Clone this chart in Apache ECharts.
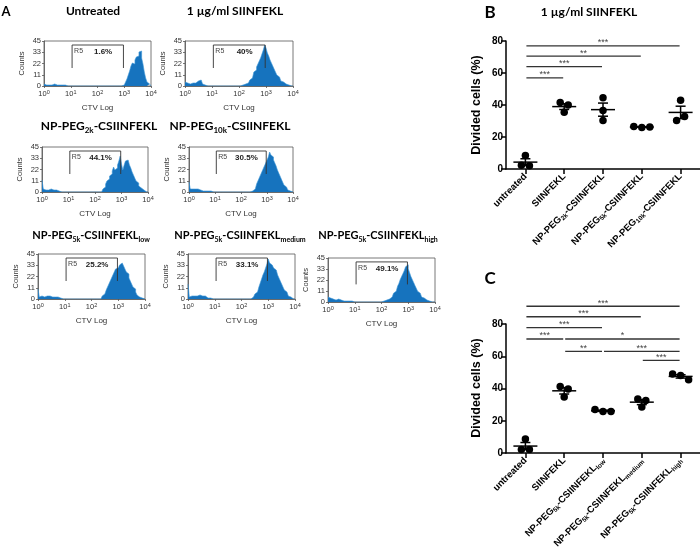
<!DOCTYPE html>
<html>
<head>
<meta charset="utf-8">
<script src="https://cdn.jsdelivr.net/npm/echarts@6/dist/echarts.min.js"></script>
<style>
html,body{margin:0;padding:0;background:#ffffff;}
#chart{width:700px;height:555px;}
</style>
</head>
<body>
<div id="chart"></div>
<script>
// ---------- Panel A: CTV histograms, counts per 0.05-decade bin from 10^0 to 10^4 ----------
const binWidth = 0.05;
const hUntreated = [
  2,1,2,1,2,1,1,2,1,1, 1,1,0,1,0,1,0,0,0,0,
  0,0,0,0,0,0,0,0,0,0, 0,0,0,0,0,0,0,0,0,0,
  0,0,0,0,0,0,0,0,0,0, 0,0,0,0,0,0,0,0,1,1,
  2,4,7,11,15,20,23,22,26,29, 30,34,35,28,22,14,8,4,2,1
];
const hSiinfekl = [
  4,3,3,2,3,3,2,3,4,5, 7,6,4,2,1,0,0,0,0,0,
  0,0,0,0,0,0,0,0,0,0, 0,0,0,0,0,0,0,0,0,0,
  0,1,1,1,2,2,3,4,6,8, 10,14,16,19,22,25,28,32,36,41,
  38,33,30,26,23,20,17,14,11,9, 7,5,4,3,2,1,1,0,0,0
];
const hPeg2k = [
  12,3,2,3,2,2,3,2,2,3, 2,3,1,0,0,0,0,0,0,0,
  0,0,0,0,0,0,0,0,0,0, 0,0,0,0,0,0,0,0,0,0,
  0,0,0,0,0,1,3,5,8,11, 13,16,18,21,25,22,24,27,31,36,
  28,22,27,31,32,30,27,24,20,17, 14,11,9,6,4,3,2,1,0,0
];
const hPeg10k = [
  10,3,3,2,3,2,3,2,2,2, 1,2,1,1,1,0,1,1,0,0,
  0,0,0,0,0,0,0,0,0,0, 0,0,0,0,0,0,0,0,0,0,
  0,0,0,0,0,0,0,0,1,2, 3,5,8,11,14,17,20,23,26,29,
  32,35,40,37,35,32,29,26,22,19, 16,13,10,7,5,3,2,1,0,0
];
const hLow = [
  10,2,3,2,2,3,3,2,3,2, 2,3,2,1,2,1,1,0,0,0,
  0,0,0,0,0,0,0,0,0,0, 0,0,0,0,0,0,0,0,0,0,
  0,0,0,0,0,0,0,1,3,5, 7,9,12,15,18,21,24,27,30,31,
  33,34,36,37,33,30,27,25,21,18, 15,12,10,7,4,2,1,1,0,0
];
const hMedium = [
  15,2,3,2,3,2,3,3,4,4, 3,2,3,2,1,1,1,0,0,0,
  0,0,0,0,0,0,0,0,0,0, 0,0,0,0,0,0,0,0,0,0,
  0,0,0,0,0,0,0,1,2,3, 5,7,9,12,16,20,24,27,31,35,
  40,36,34,33,31,29,27,24,21,18, 15,12,9,7,5,3,2,1,0,0
];
const hHigh = [
  5,4,3,3,3,2,2,3,2,2, 2,1,2,1,1,1,1,1,1,0,
  1,0,0,0,0,0,0,0,0,0, 0,0,0,0,0,0,0,0,0,0,
  0,1,1,2,2,3,4,5,7,9, 11,13,16,19,23,26,29,32,36,38,
  34,30,26,23,20,17,14,11,9,7, 5,4,3,2,2,1,1,0,0,0
];
const histTitles = ['Untreated','1 µg/ml SIINFEKL','NP-PEG2k-CSIINFEKL','NP-PEG10k-CSIINFEKL',
  'NP-PEG5k-CSIINFEKLlow','NP-PEG5k-CSIINFEKLmedium','NP-PEG5k-CSIINFEKLhigh'];
const histPct = ['1.6%','40%','44.1%','30.5%','25.2%','33.1%','49.1%'];
const gateX = [1.05, 2.97];   // R5 gate, log10 CTV
const gateY = [18, 41];       // counts
const countTicks = [0, 11, 22, 33, 45];
const decadeTicks = [0, 1, 2, 3, 4];

// ---------- Panels B and C: divided cells (%) ----------
const catsB = ['untreated','SIINFEKL','NP-PEG2k-CSIINFEKL','NP-PEG5k-CSIINFEKL','NP-PEG10k-CSIINFEKL'];
const divB = [[2.3,8.5,2.1],[41.5,40,35.5],[44.5,36.5,30.3],[26.5,26,26.2],[43,30.3,32.8]];
const sigB = [[0,1,57,'***'],[0,2,64,'***'],[0,3,70.5,'**'],[0,4,77,'***']];
const catsC = ['untreated','SIINFEKL','NP-PEG5k-CSIINFEKLlow','NP-PEG5k-CSIINFEKLmedium','NP-PEG5k-CSIINFEKLhigh'];
const divC = [[2.1,8.7,2.1],[41.3,39.7,34.7],[26.9,25.8,25.8],[28.5,33.5,32.6],[49,48,45.5]];
const sigC = [[0,4,91,'***'],[0,3,84.5,'***'],[0,2,77.7,'***'],[0,1,70.7,'***'],[1,4,70.7,'*'],
  [1,2,63,'**'],[2,4,63,'***'],[3,4,57.4,'***']];
const yTicksDiv = [0, 20, 40, 60, 80];

// ---------- layout ----------
const FF = 'Liberation Sans';
const TF = 'Lato';
const histLayout = [[44,41,107,45],[185,41,108,45],[42,147,106,45],[189,147,104,45],
  [38,254,107,45],[188,254,107,45],[328,258,107,44]];
const titlePos = [[93,11],[235,11],[99,126],[230,126],[91,235],[240,235],[378,235]];
const titleSize = [12,12,12,12,11,11,11];

function subFmt(s, key){
  return s.replace(/PEG(\d+k)/, 'PEG{' + key + '|$1}')
          .replace(/CSIINFEKL(low|medium|high)$/, 'CSIINFEKL{' + key + '|$1}');
}
function stats(v){
  const n = v.length, m = v.reduce((a,b)=>a+b,0)/n;
  const sd = Math.sqrt(v.reduce((a,b)=>a+(b-m)*(b-m),0)/(n-1));
  const se = sd/Math.sqrt(n);
  return [m, m-se, m+se];
}
function offsets(vals){
  const idx = vals.map((v,i)=>i).sort((a,b)=>vals[a]-vals[b]);
  const clusters = []; let cur = [idx[0]];
  for (let k=1;k<idx.length;k++){
    if (vals[idx[k]]-vals[idx[k-1]] < 3.5) cur.push(idx[k]); else { clusters.push(cur); cur=[idx[k]]; }
  }
  clusters.push(cur);
  const off = vals.map(()=>0);
  clusters.forEach(c=>{ c.sort((a,b)=>a-b); c.forEach((i,k)=>{ off[i] = (k-(c.length-1)/2)*8; }); });
  return off;
}

const grids = [], xAxes = [], yAxes = [], series = [];
const hists = [hUntreated, hSiinfekl, hPeg2k, hPeg10k, hLow, hMedium, hHigh];

hists.forEach((h, i) => {
  const L = histLayout[i];
  grids.push({left:L[0], top:L[1], width:L[2], height:L[3], show:true, borderColor:'#555', borderWidth:0.8, backgroundColor:'transparent'});
  xAxes.push({type:'value', gridIndex:i, min:decadeTicks[0], max:decadeTicks[decadeTicks.length-1], interval:1,
    axisLine:{show:true, lineStyle:{color:'#555', width:0.8}},
    axisTick:{show:true, length:2, lineStyle:{color:'#555', width:0.8}},
    splitLine:{show:false},
    axisLabel:{fontFamily:FF, fontSize:7.5, color:'#333', margin:3, lineHeight:10,
      formatter: v => '10{s|' + v + '}',
      rich:{s:{fontFamily:FF, fontSize:5.5, color:'#333', verticalAlign:'top', lineHeight:5}}},
    name:'CTV Log', nameLocation:'middle', nameGap:18,
    nameTextStyle:{fontFamily:FF, fontSize:8, color:'#333'}});
  yAxes.push({type:'value', gridIndex:i, min:0, max:countTicks[countTicks.length-1], interval:11.25,
    axisLine:{show:true, lineStyle:{color:'#555', width:0.8}},
    axisTick:{show:true, length:2, lineStyle:{color:'#555', width:0.8}},
    splitLine:{show:false},
    axisLabel:{fontFamily:FF, fontSize:7.5, color:'#333', margin:3, formatter: v => String(Math.floor(v))},
    name:'Counts', nameLocation:'middle', nameGap:18, nameRotate:90,
    nameTextStyle:{fontFamily:FF, fontSize:7.5, color:'#333'}});
  const data = h.map((v,k)=>[k*binWidth, v]);
  data.push([h.length*binWidth, 0]);
  series.push({type:'line', xAxisIndex:i, yAxisIndex:i, step:'end', symbol:'none', silent:true, z:2,
    data:data, lineStyle:{color:'#3f98d8', width:0.6}, areaStyle:{color:'#1673be', opacity:1}});
  series.push({type:'custom', xAxisIndex:i, yAxisIndex:i, z:5, silent:true,
    data:[[gateX[0], gateX[1], gateY[0], gateY[1]]],
    renderItem:(p, api) => {
      const a = api.coord([api.value(0), api.value(2)]);
      const b = api.coord([api.value(0), api.value(3)]);
      const c = api.coord([api.value(1), api.value(3)]);
      const d = api.coord([api.value(1), api.value(2)]);
      const mid = api.coord([(api.value(0)+api.value(1))/2 + 0.2, api.value(3)]);
      return {type:'group', children:[
        {type:'polyline', shape:{points:[a,b,c,d]}, style:{stroke:'#333', lineWidth:0.9, fill:'none'}},
        {type:'text', x:b[0]+2, y:b[1]+2.5, style:{text:'R5', fontFamily:FF, fontSize:7, fill:'#444', align:'left', verticalAlign:'top'}},
        {type:'text', x:mid[0], y:mid[1]+3, style:{text:histPct[i], fontFamily:FF, fontSize:8, fontWeight:'bold', fill:'#222', align:'center', verticalAlign:'top'}}
      ]};
    }});
});

function mainPanel(gi, top, height, cats, div, sig){
  grids.push({left:506, top:top, width:195, height:height});
  xAxes.push({type:'category', gridIndex:gi, data:cats, boundaryGap:true,
    axisLine:{show:true, lineStyle:{color:'#000', width:1.5}},
    axisTick:{show:true, alignWithLabel:true, length:5, lineStyle:{color:'#000', width:1.5}},
    splitLine:{show:false},
    axisLabel:{interval:0, rotate:45, margin:6, fontFamily:FF, fontWeight:'bold', fontSize:9.5, color:'#000', lineHeight:12,
      formatter: s => subFmt(s, 's'),
      rich:{s:{fontFamily:FF, fontWeight:'bold', fontSize:6.5, color:'#000', verticalAlign:'bottom', lineHeight:6}}}});
  yAxes.push({type:'value', gridIndex:gi, min:yTicksDiv[0], max:yTicksDiv[yTicksDiv.length-1], interval:20,
    axisLine:{show:true, lineStyle:{color:'#000', width:1.5}},
    axisTick:{show:true, length:5, lineStyle:{color:'#000', width:1.5}},
    splitLine:{show:false},
    axisLabel:{fontFamily:FF, fontWeight:'bold', fontSize:10, color:'#000', margin:3}});
  const pts = [];
  div.forEach((vals, ci) => {
    const off = offsets(vals);
    vals.forEach((v, k) => pts.push({value:[ci, v], symbolOffset:[off[k], 0]}));
  });
  series.push({type:'scatter', xAxisIndex:gi, yAxisIndex:gi, symbol:'circle', symbolSize:7.5, z:4,
    itemStyle:{color:'#000', opacity:1}, data:pts, silent:true});
  series.push({type:'custom', xAxisIndex:gi, yAxisIndex:gi, z:5, silent:true,
    data: div.map((vals, ci) => [ci].concat(stats(vals))),
    renderItem:(p, api) => {
      const m = api.coord([api.value(0), api.value(1)]);
      const lo = api.coord([api.value(0), api.value(2)]);
      const hi = api.coord([api.value(0), api.value(3)]);
      const st = {stroke:'#000', lineWidth:1.5};
      return {type:'group', children:[
        {type:'line', shape:{x1:m[0]-12, y1:m[1], x2:m[0]+12, y2:m[1]}, style:st},
        {type:'line', shape:{x1:m[0], y1:lo[1], x2:m[0], y2:hi[1]}, style:st},
        {type:'line', shape:{x1:m[0]-5, y1:lo[1], x2:m[0]+5, y2:lo[1]}, style:st},
        {type:'line', shape:{x1:m[0]-5, y1:hi[1], x2:m[0]+5, y2:hi[1]}, style:st}
      ]};
    }});
  series.push({type:'custom', xAxisIndex:gi, yAxisIndex:gi, z:3, silent:true, clip:false,
    data: sig.map(s => [s[0], s[1], s[2]]),
    renderItem:(p, api) => {
      const a = api.coord([api.value(0), api.value(2)]);
      const b = api.coord([api.value(1), api.value(2)]);
      return {type:'group', children:[
        {type:'line', shape:{x1:a[0]+1, y1:a[1], x2:b[0]-1, y2:b[1]}, style:{stroke:'#333', lineWidth:1.3}},
        {type:'text', x:(a[0]+b[0])/2, y:a[1]-3, style:{text:sig[p.dataIndex][3], fontFamily:FF, fontSize:9, fill:'#444', align:'center', verticalAlign:'middle'}}
      ]};
    }});
}
mainPanel(7, 41, 128, catsB, divB, sigB);
mainPanel(8, 324, 129, catsC, divC, sigC);

const graphic = [];
histTitles.forEach((t, i) => {
  graphic.push({type:'text', x:titlePos[i][0], y:titlePos[i][1],
    style:{text:subFmt(t, 's'), fontFamily:TF, fontWeight:'bold', fontSize:titleSize[i], lineHeight:16, fill:'#000',
      align:'center', verticalAlign:'middle',
      rich:{s:{fontFamily:TF, fontWeight:'bold', fontSize:titleSize[i]-4, lineHeight:8, fill:'#000', verticalAlign:'bottom'}}}});
});
graphic.push({type:'text', x:6, y:12, style:{text:'A', fontFamily:TF, fontWeight:'bold', fontSize:13, fill:'#000', align:'center', verticalAlign:'middle'}});
graphic.push({type:'text', x:490, y:13, style:{text:'B', fontFamily:TF, fontWeight:'bold', fontSize:17, fill:'#000', align:'center', verticalAlign:'middle'}});
graphic.push({type:'text', x:490, y:279, style:{text:'C', fontFamily:TF, fontWeight:'bold', fontSize:17, fill:'#000', align:'center', verticalAlign:'middle'}});
graphic.push({type:'text', x:589, y:12, style:{text:'1 µg/ml SIINFEKL', fontFamily:TF, fontWeight:'bold', fontSize:12, fill:'#000', align:'center', verticalAlign:'middle'}});
graphic.push({type:'text', x:477, y:105, rotation:Math.PI/2, style:{text:'Divided cells (%)', fontFamily:FF, fontWeight:'bold', fontSize:12.5, fill:'#000', align:'center', verticalAlign:'middle'}});
graphic.push({type:'text', x:477, y:388, rotation:Math.PI/2, style:{text:'Divided cells (%)', fontFamily:FF, fontWeight:'bold', fontSize:12.5, fill:'#000', align:'center', verticalAlign:'middle'}});

const chart = echarts.init(document.getElementById('chart'), null, {renderer:'canvas'});
chart.setOption({
  animation:false,
  backgroundColor:'#ffffff',
  grid:grids, xAxis:xAxes, yAxis:yAxes, series:series, graphic:graphic
});
</script>
</body>
</html>
